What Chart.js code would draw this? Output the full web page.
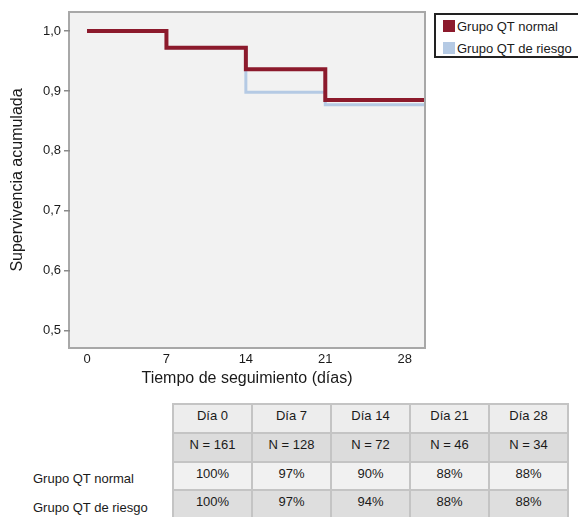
<!DOCTYPE html>
<html>
<head>
<meta charset="utf-8">
<script src="https://cdn.jsdelivr.net/npm/chart.js@4/dist/chart.umd.min.js"></script>
<style>
  html, body { margin: 0; padding: 0; background: #fff; }
  body { width: 578px; height: 517px; position: relative; overflow: hidden; font-family: "Liberation Sans", Arial, sans-serif; color: #1a1a1a; }
  #chart { position: absolute; left: 0; top: 0; }
  #legend { position: absolute; left: 434px; top: 13px; width: 160px; height: 41px; border: 2px solid #222; background: #fff; box-sizing: content-box; }
  .lg-item { position: absolute; left: 7px; font-size: 13px; line-height: 16px; white-space: nowrap; }
  .lg-sw { display: inline-block; width: 12px; height: 12px; vertical-align: -1px; margin-right: 2px; }
  #tbl { position: absolute; left: 172px; top: 403px; border-collapse: collapse; table-layout: fixed; width: 388px; }
  #tbl td { border: 2px solid #c4c4c4; text-align: center; font-size: 13px; padding: 0 0 6px 0; width: 77px; color: #1a1a1a; }
  .rl { position: absolute; left: 33px; font-size: 13px; white-space: nowrap; color: #1a1a1a; }
</style>
</head>
<body>
<canvas id="chart" width="578" height="400"></canvas>
<div id="legend"></div>
<table id="tbl"></table>
<div id="rowlabels"></div>
<script>
// ---- data ----
const times = [0, 7, 14, 21, 29.7];
const survNormal = [1.0, 0.972, 0.936, 0.885, 0.885];
const survRiesgo = [1.0, 0.972, 0.898, 0.877, 0.877];
const seriesLabels = ['Grupo QT normal', 'Grupo QT de riesgo'];
const seriesColors = ['#8c1a2c', '#b5cae4'];
const xTicks = [0, 7, 14, 21, 28];
const yTicks = [0.5, 0.6, 0.7, 0.8, 0.9, 1.0];
const tableDays = ['Día 0', 'Día 7', 'Día 14', 'Día 21', 'Día 28'];
const tableN = ['N = 161', 'N = 128', 'N = 72', 'N = 46', 'N = 34'];
const pctNormal = ['100%', '97%', '90%', '88%', '88%'];
const pctRiesgo = ['100%', '97%', '94%', '88%', '88%'];

const toPts = (ys) => times.map((t, i) => ({ x: t, y: ys[i] }));

const bgPlugin = {
  id: 'bg',
  beforeDraw(chart) {
    const { ctx, chartArea: a } = chart;
    ctx.save();
    ctx.fillStyle = '#f2f2f2';
    ctx.fillRect(a.left, a.top, a.right - a.left, a.bottom - a.top);
    ctx.strokeStyle = '#a8a8a8';
    ctx.lineWidth = 2;
    ctx.strokeRect(a.left - 1, a.top - 1, a.right - a.left + 2, a.bottom - a.top + 2);
    ctx.restore();
  }
};

const font = { family: '"Liberation Sans", Arial, sans-serif', size: 13 };

new Chart(document.getElementById('chart'), {
  type: 'line',
  data: {
    datasets: [
      { label: seriesLabels[0], data: toPts(survNormal), stepped: 'before', borderColor: seriesColors[0], borderWidth: 4, pointRadius: 0, fill: false },
      { label: seriesLabels[1], data: toPts(survRiesgo), stepped: 'before', borderColor: seriesColors[1], borderWidth: 3, pointRadius: 0, fill: false }
    ]
  },
  options: {
    responsive: false,
    animation: false,
    devicePixelRatio: 1,
    layout: { padding: { left: 0, right: 154, top: 13, bottom: 0 } },
    plugins: { legend: { display: false }, tooltip: { enabled: false } },
    scales: {
      x: {
        type: 'linear', min: -1.5, max: 29.7,
        afterBuildTicks: (s) => { s.ticks = xTicks.map(v => ({ value: v })); },
        afterFit: (s) => { s.height = 53; },
        grid: { display: true, drawOnChartArea: false, drawTicks: false },
        border: { display: false },
        ticks: { font, color: '#1a1a1a', padding: 5, maxRotation: 0, callback: v => String(v) },
        title: { display: true, text: 'Tiempo de seguimiento (días)', font: { family: font.family, size: 16 }, color: '#1a1a1a', padding: { top: 0, bottom: 12 } }
      },
      y: {
        type: 'linear', min: 0.473, max: 1.03,
        afterBuildTicks: (s) => { s.ticks = yTicks.map(v => ({ value: v })); },
        afterFit: (s) => { s.width = 70; },
        grid: { display: true, drawOnChartArea: false, drawTicks: true, tickLength: 6, color: '#8a8a8a', lineWidth: 1.5 },
        border: { display: false },
        ticks: { font, color: '#1a1a1a', padding: 3, callback: v => v.toFixed(1).replace('.', ',') },
        title: { display: true, text: 'Supervivencia acumulada', font: { family: font.family, size: 16 }, color: '#1a1a1a', padding: { top: 8, bottom: 0 } }
      }
    }
  },
  plugins: [bgPlugin]
});

// legend
const lg = document.getElementById('legend');
seriesLabels.forEach((lab, i) => {
  const d = document.createElement('div');
  d.className = 'lg-item';
  d.style.top = (4 + i * 22) + 'px';
  d.innerHTML = '<span class="lg-sw" style="background:' + seriesColors[i] + '"></span>' + lab;
  lg.appendChild(d);
});

// table
const rows = [
  { cells: tableDays, bg: '#ededed', h: 29 },
  { cells: tableN, bg: '#dcdcdc', h: 29 },
  { cells: pctNormal, bg: '#f1f1f1', h: 28 },
  { cells: pctRiesgo, bg: '#dedede', h: 29 }
];
const tbl = document.getElementById('tbl');
rows.forEach(r => {
  const tr = document.createElement('tr');
  tr.style.height = r.h + 'px';
  r.cells.forEach(c => {
    const td = document.createElement('td');
    td.textContent = c;
    td.style.background = r.bg;
    tr.appendChild(td);
  });
  tbl.appendChild(tr);
});
const rl = document.getElementById('rowlabels');
[[seriesLabels[0], 471], [seriesLabels[1], 500]].forEach(([t, y]) => {
  const d = document.createElement('div');
  d.className = 'rl';
  d.style.top = y + 'px';
  d.textContent = t;
  rl.appendChild(d);
});
</script>
</body>
</html>
